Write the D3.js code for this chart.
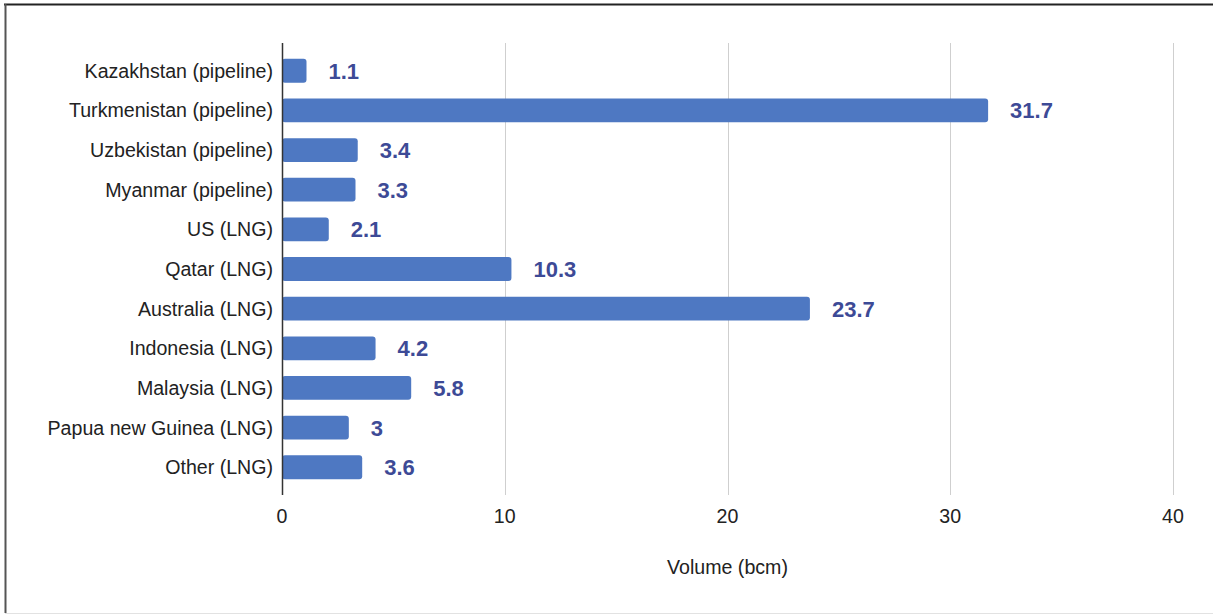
<!DOCTYPE html>
<html>
<head>
<meta charset="utf-8">
<style>
  html, body { margin: 0; padding: 0; background: #fff; }
  svg { display: block; }
</style>
</head>
<body>
<svg width="1213" height="615"></svg>
<script src="https://d3js.org/d3.v7.min.js"></script>
<script>

var categories = [
  "Kazakhstan (pipeline)",
  "Turkmenistan (pipeline)",
  "Uzbekistan (pipeline)",
  "Myanmar (pipeline)",
  "US (LNG)",
  "Qatar (LNG)",
  "Australia (LNG)",
  "Indonesia (LNG)",
  "Malaysia (LNG)",
  "Papua new Guinea (LNG)",
  "Other (LNG)"
];
var volumes = [1.1, 31.7, 3.4, 3.3, 2.1, 10.3, 23.7, 4.2, 5.8, 3, 3.6];
var ticks = [0, 10, 20, 30, 40];
var axisTitle = "Volume (bcm)";

var svg = d3.select("svg"),
    width = +svg.attr("width"),
    height = +svg.attr("height");

var data = categories.map(function(c, i) { return { name: c, value: volumes[i] }; });

var font = "'Liberation Sans', Arial, sans-serif";

// frame
svg.append("line").attr("x1", 4).attr("x2", width).attr("y1", 4.5).attr("y2", 4.5)
    .attr("stroke", "#222").attr("stroke-width", 2);
svg.append("line").attr("x1", 5.5).attr("x2", 5.5).attr("y1", 4).attr("y2", 613)
    .attr("stroke", "#555").attr("stroke-width", 2);
svg.append("line").attr("x1", 5).attr("x2", width).attr("y1", 613.5).attr("y2", 613.5)
    .attr("stroke", "#e2e2e2").attr("stroke-width", 1);

var x = d3.scaleLinear()
    .domain([0, 40])
    .range([282, 1173]);

var y = d3.scaleBand()
    .domain(categories)
    .range([43, 495])
    .paddingInner(0.4)
    .paddingOuter(0.4);

// gridlines
svg.append("g")
  .selectAll("line")
  .data(ticks.filter(function(t) { return t > 0; }))
  .enter().append("line")
    .attr("x1", function(d) { return Math.round(x(d)) + 0.5; })
    .attr("x2", function(d) { return Math.round(x(d)) + 0.5; })
    .attr("y1", 43)
    .attr("y2", 495)
    .attr("stroke", "#cfcfcf")
    .attr("stroke-width", 1);

// bars
svg.append("g")
  .selectAll("rect")
  .data(data)
  .enter().append("rect")
    .attr("x", x(0))
    .attr("y", function(d) { return y(d.name); })
    .attr("width", function(d) { return x(d.value) - x(0); })
    .attr("height", y.bandwidth())
    .attr("rx", 3)
    .attr("fill", "#4e78c2");

// zero axis line
svg.append("line")
    .attr("x1", Math.round(x(0)) + 0.5).attr("x2", Math.round(x(0)) + 0.5)
    .attr("y1", 43).attr("y2", 495)
    .attr("stroke", "#333").attr("stroke-width", 1.5);

// value labels
svg.append("g")
    .attr("font-family", font)
    .attr("font-weight", "bold")
    .attr("font-size", 22)
    .attr("fill", "#3d4a96")
  .selectAll("text")
  .data(data)
  .enter().append("text")
    .attr("x", function(d) { return x(d.value) + 22; })
    .attr("y", function(d) { return y(d.name) + y.bandwidth() / 2; })
    .attr("dy", "0.36em")
    .text(function(d) { return d.value; });

// category labels
svg.append("g")
    .attr("font-family", font)
    .attr("font-size", 19.6)
    .attr("fill", "#222")
    .attr("text-anchor", "end")
  .selectAll("text")
  .data(categories)
  .enter().append("text")
    .attr("x", x(0) - 9)
    .attr("y", function(d) { return y(d) + y.bandwidth() / 2; })
    .attr("dy", "0.36em")
    .text(function(d) { return d; });

// tick labels
svg.append("g")
    .attr("font-family", font)
    .attr("font-size", 19.6)
    .attr("fill", "#222")
    .attr("text-anchor", "middle")
  .selectAll("text")
  .data(ticks)
  .enter().append("text")
    .attr("x", function(d) { return x(d); })
    .attr("y", 516)
    .attr("dy", "0.36em")
    .text(function(d) { return d; });

// axis title
svg.append("text")
    .attr("x", x(20))
    .attr("y", 567)
    .attr("dy", "0.36em")
    .attr("text-anchor", "middle")
    .attr("font-family", font)
    .attr("font-size", 19.6)
    .attr("fill", "#222")
    .text(axisTitle);

</script>
</body>
</html>
